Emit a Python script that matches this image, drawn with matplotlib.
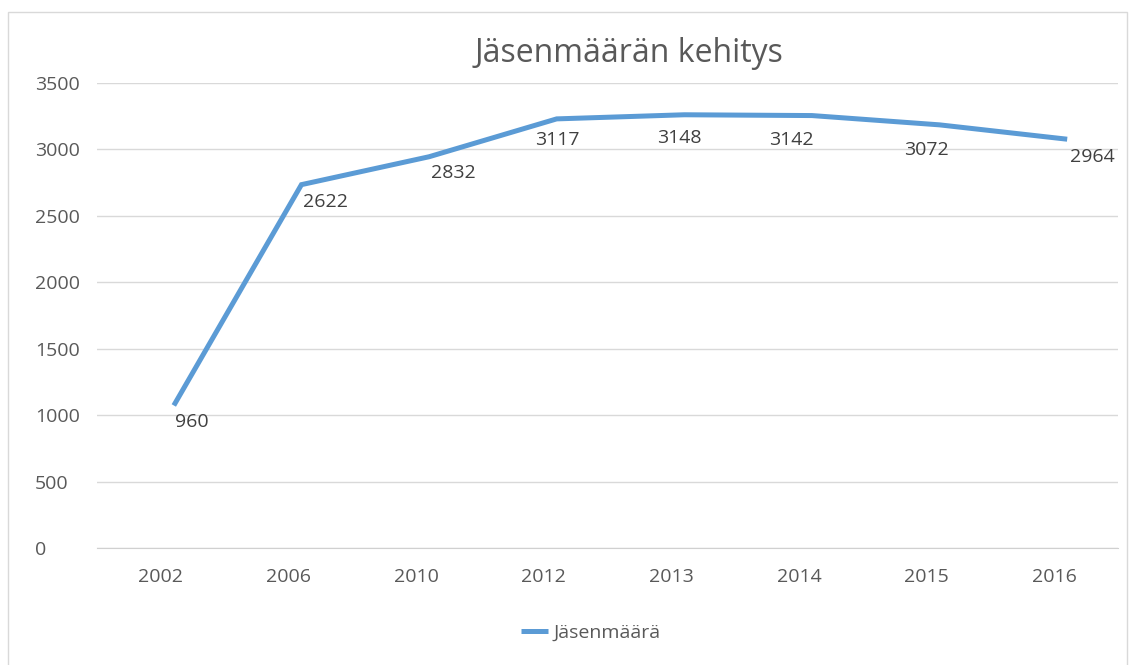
import matplotlib
matplotlib.use('Agg')
import matplotlib.pyplot as plt
import matplotlib.patches as mpatches
from matplotlib.transforms import ScaledTranslation

# Jäsenmäärä vuosittain
vuodet = ['2002', '2006', '2010', '2012', '2013', '2014', '2015', '2016']
jasenet = [960, 2622, 2832, 3117, 3148, 3142, 3072, 2964]
y_ticks = [0, 500, 1000, 1500, 2000, 2500, 3000, 3500]

# arvotunnisteiden siirrot pikseleinä (käsin sijoitetut kuten alkuperäisessä)
label_offsets = [(31, -2), (37, -2), (37, -1), (14, -6), (8, -8), (-8, -9), (0, -10), (38, -3)]

plt.rcParams['font.family'] = ['Open Sans', 'DejaVu Sans']

DPI = 100
fig = plt.figure(figsize=(11.37, 6.65), dpi=DPI)
ax = fig.add_axes([97 / 1137, 1 - 548 / 665, (1118 - 97) / 1137, (548 - 83) / 665])

# kehys kaavion ympärillä
fig.patches.append(mpatches.Rectangle(
    (8 / 1137, -0.05), (1127 - 8) / 1137, 1 - 12 / 665 + 0.05,
    transform=fig.transFigure, fill=False, edgecolor='#d9d9d9', linewidth=1))

x = list(range(len(vuodet)))

# viiva on kuvassa hieman siirtynyt oikealle ja ylös
shift = ScaledTranslation(13 / DPI, 15 / DPI, fig.dpi_scale_trans)
ax.plot(x, jasenet, color='#5b9bd5', linewidth=3.6, solid_capstyle='butt',
        solid_joinstyle='miter', transform=ax.transData + shift,
        label='Jäsenmäärä', zorder=3)

for xi, v, off in zip(x, jasenet, label_offsets):
    ax.annotate(str(v), (xi, v), xytext=off, textcoords='offset pixels',
                ha='center', va='center', fontsize=14, color='#404040')

ax.set_xlim(-0.5, len(vuodet) - 0.5)
ax.set_ylim(0, 3500)
ax.set_yticks(y_ticks)
ax.set_xticks(x)
ax.set_xticklabels(vuodet)

ax.grid(axis='y', color='#d9d9d9', linewidth=1)
ax.set_axisbelow(True)
for side in ['top', 'right', 'left']:
    ax.spines[side].set_visible(False)
ax.spines['bottom'].set_color('#d0d0d0')
ax.tick_params(axis='both', length=0, labelsize=14, colors='#595959')
ax.tick_params(axis='y', pad=62 * 72 / DPI)
ax.tick_params(axis='x', pad=20 * 72 / DPI)
for lbl in ax.get_yticklabels():
    lbl.set_horizontalalignment('left')

fig.text(629 / 1137, 1 - 54 / 665, 'Jäsenmäärän kehitys', ha='center', va='center',
         fontsize=23, color='#595959')

leg = fig.legend(loc='center', bbox_to_anchor=(591 / 1137, 1 - 633 / 665),
                 frameon=False, fontsize=14, handlelength=1.4, handletextpad=0.3)
for t in leg.get_texts():
    t.set_color('#595959')

fig.savefig('out.png', dpi=DPI)
